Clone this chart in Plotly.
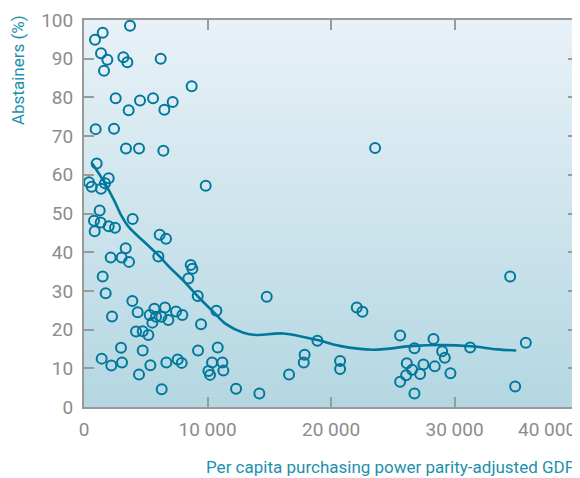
import plotly.graph_objects as go

# ---- data ----
gdp = [3726, 1513, 891, 1377, 1890, 3186, 3510, 6210, 1620, 8720,
       2565, 4536, 5590, 7180, 3618, 6507, 945, 2430, 3400, 4455,
       6426, 1026, 405, 621, 1377, 1701, 2000, 9855, 1269, 810,
       1350, 864, 2000, 2511, 3942, 6129, 6642, 3375, 2160, 3051,
       3645, 6021, 8640, 8775, 1513, 8450, 1755, 3915, 2268, 4347,
       5318, 5697, 6561, 7452, 7965, 5832, 6264, 6831, 5535, 4212,
       4752, 5211, 9477, 10720, 9207, 2997, 4752, 1431, 2214, 3078,
       4455, 5373, 6669, 7587, 7911, 6291, 9234, 10827, 10071, 10206,
       10368, 11205, 11286, 14796, 12312, 14199, 16605, 17865, 17793, 18900,
       20736, 20736, 22086, 22545, 23571, 34506, 35775, 34911, 25596, 26757,
       28296, 28998, 29214, 31266, 26136, 26568, 26082, 25596, 27486, 27216,
       28404, 29673, 26757]
abstainers = [98.5, 96.7, 94.9, 91.4, 89.7, 90.4, 89.1, 90.0, 86.9, 82.9,
              79.8, 79.2, 79.8, 78.8, 76.7, 76.8, 71.8, 71.9, 66.8, 66.8,
              66.2, 62.9, 58.1, 56.9, 56.4, 57.8, 59.1, 57.2, 50.8, 48.1,
              47.7, 45.4, 46.7, 46.3, 48.6, 44.5, 43.5, 41.0, 38.6, 38.6,
              37.5, 38.9, 36.7, 35.7, 33.7, 33.2, 29.4, 27.4, 23.4, 24.5,
              23.8, 25.4, 25.7, 24.7, 23.8, 23.3, 23.3, 22.5, 21.8, 19.5,
              19.6, 18.6, 21.4, 24.9, 28.7, 15.3, 14.6, 12.5, 10.7, 11.5,
              8.4, 10.8, 11.5, 12.3, 11.4, 4.6, 14.6, 15.4, 9.3, 8.3,
              11.5, 11.5, 9.4, 28.5, 4.7, 3.5, 8.4, 13.5, 11.5, 17.1,
              11.9, 9.8, 25.7, 24.6, 66.9, 33.7, 16.6, 5.3, 18.5, 15.2,
              17.6, 14.4, 12.7, 15.4, 11.3, 9.6, 8.2, 6.5, 11.0, 8.5,
              10.5, 8.7, 3.5]

trend_gdp = [650, 1700, 2500, 3000, 3600, 5000, 6000, 7000, 8000, 9300,
             10500, 11500, 12900, 14000, 16100, 18900, 20700, 23400, 26700,
             29000, 31300, 33500, 35000]
trend_abst = [63.0, 57.8, 53.0, 49.6, 46.6, 42.3, 39.3, 35.9, 32.8, 28.3,
              24.5, 21.4, 19.2, 18.6, 19.0, 17.3, 15.8, 14.8, 15.8,
              16.0, 15.7, 14.9, 14.6]

x_ticks = [0, 10000, 20000, 30000, 40000]
x_tick_labels = ["0", "10 000", "20 000", "30 000", "40 000"]
y_ticks = [0, 10, 20, 30, 40, 50, 60, 70, 80, 90, 100]
y_tick_labels = [str(v) for v in y_ticks]

teal = "#00789c"
title_col = "#1d8fae"
grey = "#8c8c8c"
axis_col = "#9a9a9a"
font_fam = "Roboto, Arial, sans-serif"
tick_size = 19

fig = go.Figure()

# gradient background (stripes in domain coordinates)
n = 80
top = (232, 241, 247)
bot = (180, 215, 226)
shapes = []
for i in range(n):
    t = i / (n - 1)
    c = tuple(round(top[k] + (bot[k] - top[k]) * t) for k in range(3))
    y1 = 1 - i / n
    y0 = 1 - (i + 1) / n
    shapes.append(dict(type="rect", xref="x domain", yref="y domain",
                       x0=0, x1=1, y0=y0 - 0.002, y1=y1,
                       fillcolor="rgb(%d,%d,%d)" % c, line=dict(width=0),
                       layer="below"))

fig.add_trace(go.Scatter(x=trend_gdp, y=trend_abst, mode="lines",
                         line=dict(color=teal, width=2.6, shape="spline", smoothing=1.0),
                         hoverinfo="skip", showlegend=False))
fig.add_trace(go.Scatter(x=gdp, y=abstainers, mode="markers",
                         marker=dict(symbol="circle-open", size=10, color=teal,
                                     line=dict(width=2, color=teal)),
                         showlegend=False))

# last x tick label is right-aligned to the plot edge, as in the reference
axis_text = [dict(text=x_tick_labels[-1], xref="x", yref="paper",
                  x=x_ticks[-1], y=-0.022, xanchor="right", yanchor="top",
                  showarrow=False, font=dict(size=tick_size, color=grey, family=font_fam))]

# the page body adds an 8px offset; the figure is sized to fit the window
fig.update_layout(
    width=572, height=470,
    margin=dict(l=76, r=2, t=12, b=71),
    paper_bgcolor="white", plot_bgcolor="rgba(0,0,0,0)",
    shapes=shapes,
    font=dict(family=font_fam, color=grey, size=tick_size),
    xaxis=dict(range=[0, 40000], tickvals=x_ticks,
               ticktext=x_tick_labels[:-1] + [""],
               showgrid=False, zeroline=False, showline=True, linecolor=axis_col,
               linewidth=2, mirror="allticks", ticks="inside", ticklen=10,
               tickcolor=axis_col, tickwidth=2, automargin=False, ticklabelstandoff=4,
               tickfont=dict(size=tick_size, color=grey, family=font_fam)),
    yaxis=dict(range=[0, 100], tickvals=y_ticks, ticktext=y_tick_labels,
               showgrid=False, zeroline=False, showline=True, linecolor=axis_col,
               linewidth=2, mirror="allticks", ticks="inside", ticklen=10,
               tickcolor=axis_col, tickwidth=2, automargin=False, ticklabelstandoff=5,
               tickfont=dict(size=tick_size, color=grey, family=font_fam)),
    annotations=axis_text + [
        dict(text="Abstainers (%)", xref="paper", yref="paper",
             x=-0.1336, y=1.018, xanchor="center", yanchor="top", textangle=-90,
             showarrow=False, font=dict(size=17, color=title_col, family=font_fam)),
        dict(text="Per capita purchasing power parity-adjusted GDP",
             xref="paper", yref="paper", x=1.0, y=-0.124, xanchor="right",
             yanchor="top", showarrow=False,
             font=dict(size=17, color=title_col, family=font_fam)),
    ],
)

fig.write_html("out.html")
